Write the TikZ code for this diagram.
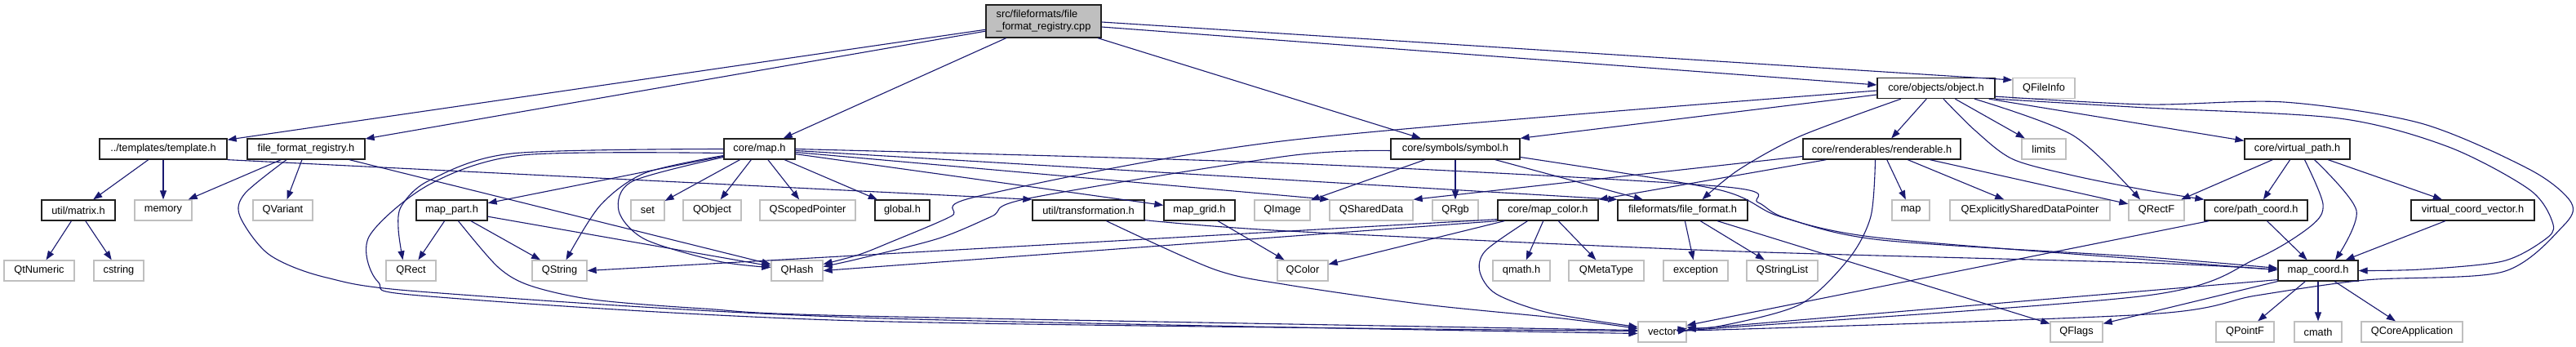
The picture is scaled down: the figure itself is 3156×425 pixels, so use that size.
\documentclass[tikz,border=0pt]{standalone}
\usepackage{fontspec}
\setmainfont{Liberation Sans}
\usetikzlibrary{arrows.meta}
\definecolor{edgecol}{HTML}{191970}
\definecolor{sysgray}{HTML}{BFBFBF}
\definecolor{rootfill}{HTML}{BFBFBF}
\definecolor{docline}{HTML}{202020}
\begin{document}
\begin{tikzpicture}[x=1pt,y=-1pt,
  box/.style={rectangle, inner sep=0pt, minimum height=25pt, font=\fontsize{12.8}{15}\selectfont, text=black, line width=1.3pt},
  doc/.style={box, draw=docline, fill=white},
  sys/.style={box, draw=sysgray, fill=white},
  root/.style={box, draw=docline, fill=rootfill, minimum height=40pt, align=left},
  e/.style={draw=edgecol, line width=1.1pt, -{Triangle[length=11pt,width=8pt]}},
]
\fill[white] (0,0) rectangle (3156,425);
\useasboundingbox (0,0) rectangle (3156,425);

% top
\node[root, minimum width=141pt] (cpp) at (1278.5,26) {src/fileformats/file\\\_format\_registry.cpp};
% object row
\node[doc, minimum width=144pt] (obj) at (2372,108) {core/objects/object.h};
\node[sys, minimum width=76pt] (qfileinfo) at (2504,108) {QFileInfo};
% row 2
\node[doc, minimum width=156pt] (tmpl) at (200,182.5) {../templates/template.h};
\node[doc, minimum width=144pt] (ffr) at (375,182.5) {file\_format\_registry.h};
\node[doc, minimum width=87pt] (mp) at (930.5,182.5) {core/map.h};
\node[doc, minimum width=158pt] (sym) at (1783,182.5) {core/symbols/symbol.h};
\node[doc, minimum width=193pt] (ren) at (2305.5,182.5) {core/renderables/renderable.h};
\node[sys, minimum width=54pt] (limits) at (2504,182.5) {limits};
\node[doc, minimum width=129pt] (vp) at (2814.5,182.5) {core/virtual\_path.h};
% row 3
\node[doc, minimum width=90pt] (matrix) at (96,257.5) {util/matrix.h};
\node[sys, minimum width=70pt] (memory) at (200,257.5) {memory};
\node[sys, minimum width=73pt] (qvariant) at (346.5,257.5) {QVariant};
\node[doc, minimum width=87pt] (mpt) at (553.5,257.5) {map\_part.h};
\node[sys, minimum width=41pt] (set) at (793.5,257.5) {set};
\node[sys, minimum width=71pt] (qobject) at (872.5,257.5) {QObject};
\node[sys, minimum width=117pt] (qscoped) at (989.5,257.5) {QScopedPointer};
\node[doc, minimum width=67pt] (global) at (1105.5,257.5) {global.h};
\node[doc, minimum width=137pt] (tr) at (1333.5,257.5) {util/transformation.h};
\node[doc, minimum width=87pt] (mgrid) at (1469.5,257.5) {map\_grid.h};
\node[sys, minimum width=68pt] (qimage) at (1571,257.5) {QImage};
\node[sys, minimum width=102pt] (qshared) at (1680,257.5) {QSharedData};
\node[sys, minimum width=56pt] (qrgb) at (1783,257.5) {QRgb};
\node[doc, minimum width=123pt] (mcol) at (1896.5,257.5) {core/map\_color.h};
\node[doc, minimum width=159pt] (ff) at (2061.5,257.5) {fileformats/file\_format.h};
\node[sys, minimum width=46pt] (map) at (2341,257.5) {map};
\node[sys, minimum width=196pt] (qexpl) at (2487,257.5) {QExplicitlySharedDataPointer};
\node[sys, minimum width=68pt] (qrectf) at (2642,257.5) {QRectF};
\node[doc, minimum width=126pt] (pc) at (2764,257.5) {core/path\_coord.h};
\node[doc, minimum width=151pt] (vcv) at (3029.5,257.5) {virtual\_coord\_vector.h};
% row 4
\node[sys, minimum width=86pt] (qtnum) at (48,331.5) {QtNumeric};
\node[sys, minimum width=61pt] (cstring) at (145.5,331.5) {cstring};
\node[sys, minimum width=61pt] (qrect) at (503.5,331.5) {QRect};
\node[sys, minimum width=67pt] (qstring) at (685.5,331.5) {QString};
\node[sys, minimum width=63pt] (qhash) at (976.5,331.5) {QHash};
\node[sys, minimum width=62pt] (qcolor) at (1596,331.5) {QColor};
\node[sys, minimum width=70pt] (qmath) at (1864,331.5) {qmath.h};
\node[sys, minimum width=92pt] (qmeta) at (1968,331.5) {QMetaType};
\node[sys, minimum width=79pt] (exception) at (2077.5,331.5) {exception};
\node[sys, minimum width=87pt] (qstrlist) at (2183.5,331.5) {QStringList};
\node[doc, minimum width=98pt] (mc) at (2840,331.5) {map\_coord.h};
% row 5
\node[sys, minimum width=59pt] (vector) at (2036.5,406.5) {vector};
\node[sys, minimum width=64pt] (qflags) at (2544,406.5) {QFlags};
\node[sys, minimum width=71pt] (qpointf) at (2750.5,406.5) {QPointF};
\node[sys, minimum width=58pt] (cmath) at (2840,406.5) {cmath};
\node[sys, minimum width=124pt] (qcoreapp) at (2955,406.5) {QCoreApplication};

% ---- edges ----
% cpp
\draw[e] (cpp) -- (tmpl);
\draw[e] (cpp) -- (ffr);
\draw[e] (cpp) -- (mp);
\draw[e] (cpp) -- (sym);
\draw[e] ([yshift=-7pt]cpp.east) -- ([yshift=4pt]obj.west);
\draw[e] ([yshift=-1pt]cpp.east) -- ([yshift=10pt]qfileinfo.west);
% template
\draw[e] (tmpl) -- (matrix);
\draw[e] (tmpl) -- (memory);
\draw[e] (tmpl.south east) -- (tr.north west);
\draw[e] (matrix) -- (qtnum);
\draw[e] (matrix) -- (cstring);
% file_format_registry.h
\draw[e] (ffr) -- (memory);
\draw[e] (ffr) -- (qvariant);
\draw[e] (ffr) -- (qhash);
\draw[e] plot[smooth] coordinates {([xshift=-24pt]ffr.south) (300,237) (294,265) (330,312) (400,340) (526,358) (1052,389) ([yshift=-2pt]vector.west)};
% map.h
\draw[e] (mp) -- (mpt);
\draw[e] (mp) -- (set);
\draw[e] (mp) -- (qobject);
\draw[e] (mp) -- (qscoped);
\draw[e] (mp) -- (global);
\draw[e] (mp) -- (mgrid);
\draw[e] ([yshift=-4pt]mp.east) -- (qshared.north west);
\draw[e] ([yshift=-2pt]mp.east) -- (ff.north west);
\draw[e] plot[smooth] coordinates {(mp.east) (1578,200) (2104,228) (2154,248) (2188,267) (2305,294) (2630,315) ([yshift=3pt]mc.west)};
\draw[e] plot[smooth] coordinates {(mp.west) (627,188) (526,221) (492,252) (488,280) ([xshift=-10pt]qrect.north)};
\draw[e] plot[smooth] coordinates {([yshift=-5pt]mp.west) (640,190) (526,226) (452,290) (463,345) (526,363) (1052,393) ([yshift=1pt]vector.west)};
\draw[e] plot[smooth] coordinates {([yshift=-8pt]mp.west) (790,212) (735,252) ([xshift=8pt]qstring.north)};
\draw[e] plot[smooth] coordinates {([yshift=-10pt]mp.west) (775,222) (758,258) (790,293) (880,320) ([yshift=4pt]qhash.west)};
% symbol.h
\draw[e] (sym) -- (qimage);
\draw[e] (sym) -- (qrgb);
\draw[e] (sym) -- (ff);
\draw[e] plot[smooth] coordinates {([yshift=-2pt]sym.west) (1578,191) (1260,243) (1215,265) (1150,292) (1052,317) ([yshift=5pt]qhash.east)};
\draw[e] plot[smooth] coordinates {([yshift=-10pt]sym.east) (2104,232) (2180,265) (2300,291) (2630,318) ([yshift=1pt]mc.west)};
% object.h
\draw[e] (obj) -- (ren);
\draw[e] (obj) -- (limits);
\draw[e] plot[smooth] coordinates {([xshift=47pt]obj.south) (2540,166) ([xshift=-20pt]qrectf.north)};
\draw[e] plot[smooth] coordinates {([xshift=9pt]obj.south) (2420,160) (2466,195) (2540,215) (2630,233) (pc.north west)};
\draw[e] ([xshift=-8pt]obj.south east) -- ([yshift=-3pt]vp.north west);
\draw[e] plot[smooth] coordinates {(obj.south east) (2630,132) (2866,145) (3000,180) (3100,233) (3128,275) (3117,294) (3066,320) (2966,330) (mc.east)};
\draw[e] plot[smooth] coordinates {([yshift=3pt]obj.south east) (2630,128) (2798,125) (2966,151) (3100,208) (3150,248) (3140,277) (3066,333) (2898,343) (2764,362) (2630,385) (2104,404) ([yshift=4pt]vector.east)};
\draw[e] plot[smooth] coordinates {([yshift=-3pt]obj.west) (1578,172) (1200,240) (1165,265) (1090,297) (1052,312) ([yshift=8pt]qhash.east)};
\draw[e] ([yshift=-8pt]obj.west) -- (sym.north east);
\draw[e] plot[smooth] coordinates {([xshift=-43pt]obj.south) (2205,167) (2130,208) ([xshift=24pt]ff.north)};
% renderable.h
\draw[e] (ren) -- (map);
\draw[e] (ren) -- (qexpl);
\draw[e] (ren) -- (qrectf);
\draw[e] ([yshift=-9pt]ren.west) -- (qshared.north east);
\draw[e] ([xshift=29pt]ren.south west) -- (mcol.north east);
\draw[e] plot[smooth] coordinates {([xshift=-8pt]ren.south) (2292,265) (2265,317) (2205,373) (2104,400) ([yshift=6pt]vector.east)};
% virtual_path.h
\draw[e] (vp) -- (qrectf);
\draw[e] (vp) -- (pc);
\draw[e] (vp) -- (vcv);
\draw[e] plot[smooth] coordinates {([xshift=21pt]vp.south) (2887,258) ([xshift=21pt]mc.north)};
\draw[e] plot[smooth] coordinates {([xshift=9pt]vp.south) (2846,250) (2831,277) (2764,317) (2630,362) (2104,402) ([yshift=2pt]vector.east)};
% path_coord.h, virtual_coord_vector.h
\draw[e] (pc) -- (mc);
\draw[e] ([xshift=6pt]pc.south west) -- ([yshift=8pt]vector.east);
\draw[e] (vcv) -- (mc);
% map_coord.h
\draw[e] (mc) -- (qpointf);
\draw[e] (mc) -- (cmath);
\draw[e] (mc) -- (qcoreapp);
\draw[e] ([yshift=2pt]mc.south west) -- ([yshift=3pt]vector.east);
\draw[e] (mc.south west) -- ([yshift=-3pt]qflags.north east);
% transformation.h
\draw[e] plot[smooth] coordinates {([yshift=1pt]tr.south east) (1578,283) (2104,307) (2630,322) ([yshift=1pt]mc.west)};
\draw[e] plot[smooth] coordinates {([xshift=22pt]tr.south) (1488,330) (1578,349) (1746,373) (1914,390) ([yshift=4pt]vector.west)};
% map_grid.h
\draw[e] (mgrid) -- (qcolor);
% map_part.h
\draw[e] (mpt) -- (qrect);
\draw[e] (mpt) -- (qstring);
\draw[e] (mpt) -- (qhash);
\draw[e] plot[smooth] coordinates {([xshift=8pt]mpt.south) (610,327) (650,350) (727,367) (862,378) (1052,387) ([yshift=2pt]vector.west)};
% map_color.h
\draw[e] (mcol) -- (qcolor);
\draw[e] (mcol) -- (qmath);
\draw[e] (mcol) -- (qmeta);
\draw[e] (mcol.south west) -- (qhash.east);
\draw[e] ([yshift=2pt]mcol.south west) -- (qstring.east);
\draw[e] plot[smooth] coordinates {([xshift=-25pt]mcol.south) (1820,307) (1813,333) (1833,360) (1897,383) ([yshift=6pt]vector.west)};
% file_format.h
\draw[e] (ff) -- (exception);
\draw[e] (ff) -- (qstrlist);
\draw[e] (ff) -- (qflags);
\end{tikzpicture}
\end{document}
